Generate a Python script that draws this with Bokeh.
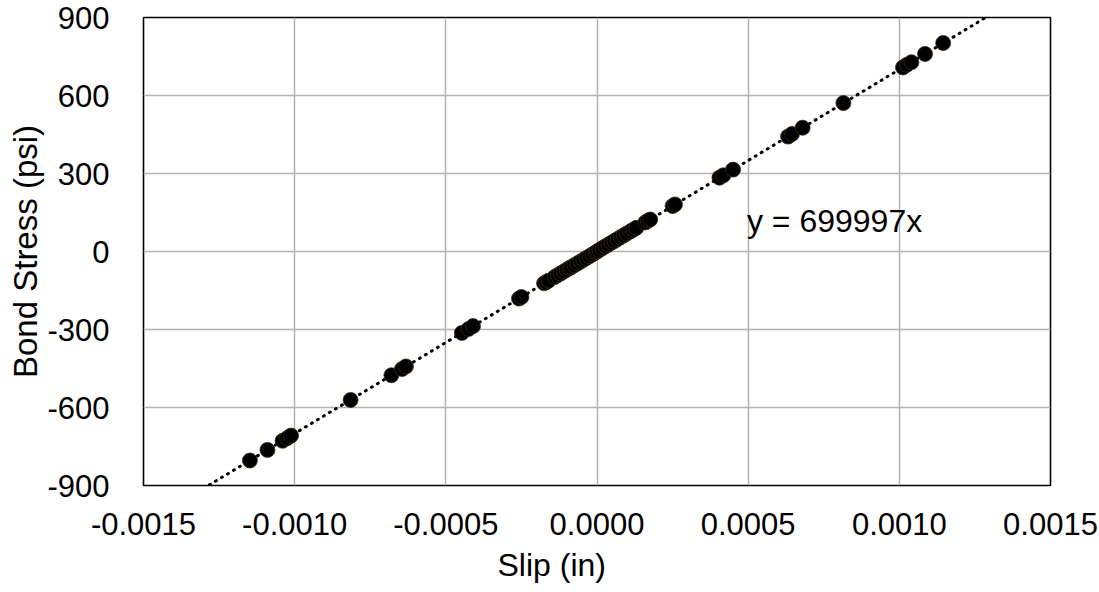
from bokeh.plotting import figure
from bokeh.models import Range1d, FixedTicker, Label, Title, CustomJSTickFormatter
from bokeh.embed import file_html
from bokeh.resources import INLINE

# Measured slip (in) and bond stress (psi) pairs
slip = [
    -0.001148, -0.001090, -0.001040, -0.001025, -0.001012,
    -0.000815, -0.000680, -0.000645, -0.000632,
    -0.000447, -0.000425, -0.000410,
    -0.000258, -0.000250,
    -0.000175, -0.000168, -0.000160,
    -0.000140, -0.000130, -0.000120, -0.000110, -0.000100,
    -0.000092, -0.000085, -0.000075, -0.000065, -0.000055,
    -0.000045, -0.000035, -0.000025, -0.000015, -0.000005,
    0.000000, 0.000008, 0.000018, 0.000028, 0.000038,
    0.000048, 0.000058, 0.000068, 0.000078, 0.000088,
    0.000098, 0.000110, 0.000120, 0.000130,
    0.000160, 0.000168, 0.000176,
    0.000250, 0.000258,
    0.000405, 0.000418, 0.000450,
    0.000632, 0.000645, 0.000680,
    0.000815,
    0.001012, 0.001025, 0.001040, 0.001085, 0.001145,
]
stress = [
    -804, -763, -728, -718, -708,
    -571, -476, -452, -442,
    -313, -298, -287,
    -181, -175,
    -122, -118, -112,
    -98, -91, -84, -77, -70,
    -64, -60, -53, -46, -39,
    -32, -25, -18, -11, -4,
    0, 6, 13, 20, 27,
    34, 41, 48, 55, 62,
    69, 77, 84, 91,
    112, 118, 123,
    175, 181,
    284, 293, 315,
    442, 452, 476,
    571,
    708, 718, 728, 760, 802,
]

# Linear fit through the origin
slope = 699997
fit_x = [-0.0015, 0.0015]
fit_y = [slope * v for v in fit_x]

x_ticks = [-0.0015, -0.0010, -0.0005, 0.0, 0.0005, 0.0010, 0.0015]
y_ticks = [-900, -600, -300, 0, 300, 600, 900]

FONT = "Liberation Sans"

p = figure(
    width=1099, height=592,
    x_range=Range1d(-0.0015, 0.0015), y_range=Range1d(-900, 900),
    output_backend="svg", toolbar_location=None,
    min_border_left=143, min_border_right=49,
    min_border_top=17, min_border_bottom=107,
)
p.background_fill_color = "white"
p.border_fill_color = "white"
p.outline_line_color = "black"
p.outline_line_width = 1.6

for ax in (p.xaxis[0], p.yaxis[0]):
    ax.axis_line_color = None
    ax.major_tick_line_color = None
    ax.minor_tick_line_color = None
    ax.major_label_text_font = FONT
    ax.major_label_text_font_size = "31px"
    ax.major_label_text_color = "black"
    ax.axis_label_text_font = FONT
    ax.axis_label_text_font_style = "normal"
    ax.axis_label_text_color = "black"

p.xaxis.ticker = FixedTicker(ticks=x_ticks)
p.yaxis.ticker = FixedTicker(ticks=y_ticks)
p.xaxis.formatter = CustomJSTickFormatter(code="return tick.toFixed(4);")
p.yaxis.formatter = CustomJSTickFormatter(code="return tick.toFixed(0);")
p.xaxis.major_label_standoff = 21
p.yaxis.major_label_standoff = 28
p.yaxis.axis_label = "Bond Stress (psi)"
p.yaxis.axis_label_text_font_size = "33px"
p.yaxis.axis_label_standoff = 0

p.xgrid.ticker = FixedTicker(ticks=x_ticks)
p.ygrid.ticker = FixedTicker(ticks=y_ticks)
p.grid.grid_line_color = "#b3b3b3"
p.grid.grid_line_width = 1.5

p.line(fit_x, fit_y, line_color="black", line_width=3,
       line_dash="1 6", line_cap="round")
p.scatter(slip, stress, size=15, fill_color="black", line_color="#3a2a10",
          line_width=0.8)

# x-axis title, centred under the whole chart rather than the frame
p.add_layout(Title(text="Slip (in)", align="left", offset=354,
                   text_font=FONT, text_font_size="32px",
                   text_font_style="normal", text_color="black",
                   text_line_height=1.0, standoff=14), "below")

p.add_layout(Label(x=0.000496, y=119, text="y = 699997x",
                   text_font=FONT, text_font_size="32px",
                   text_color="black", text_baseline="middle"))

open("out.html", "w").write(file_html(p, INLINE))
